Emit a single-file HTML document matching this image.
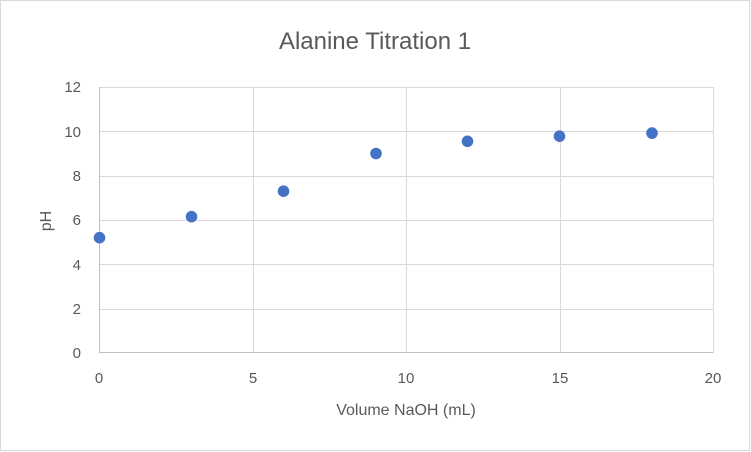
<!DOCTYPE html>
<html><head><style>body{margin:0;background:#fff}svg{display:block}</style></head>
<body>
<svg width="751" height="452" xmlns="http://www.w3.org/2000/svg" font-family="'Liberation Sans',sans-serif">
<rect x="0.5" y="0.5" width="749" height="450" fill="#fff" stroke="#d9d9d9"/>
<text x="375" y="49" text-anchor="middle" font-size="24" fill="#595959">Alanine Titration 1</text>
<g stroke="#d9d9d9" stroke-width="1">
<line x1="99" y1="87.5" x2="713" y2="87.5"/>
<line x1="99" y1="131.5" x2="713" y2="131.5"/>
<line x1="99" y1="176.5" x2="713" y2="176.5"/>
<line x1="99" y1="220.5" x2="713" y2="220.5"/>
<line x1="99" y1="264.5" x2="713" y2="264.5"/>
<line x1="99" y1="309.5" x2="713" y2="309.5"/>
<line x1="253.5" y1="87" x2="253.5" y2="353"/>
<line x1="406.5" y1="87" x2="406.5" y2="353"/>
<line x1="560.5" y1="87" x2="560.5" y2="353"/>
<line x1="713.5" y1="87" x2="713.5" y2="353"/>
</g>
<g stroke="#bfbfbf" stroke-width="1">
<line x1="99" y1="352.5" x2="713" y2="352.5"/>
<line x1="99.5" y1="87" x2="99.5" y2="353"/>
</g>
<g font-size="15" fill="#595959" text-anchor="end">
<text x="81" y="92">12</text><text x="81" y="137">10</text><text x="81" y="181">8</text>
<text x="81" y="225">6</text><text x="81" y="270">4</text><text x="81" y="314">2</text><text x="81" y="358">0</text>
</g>
<g font-size="15" fill="#595959" text-anchor="middle">
<text x="99" y="383">0</text><text x="253" y="383">5</text><text x="406" y="383">10</text>
<text x="560" y="383">15</text><text x="713" y="383">20</text>
</g>
<text x="406" y="415" text-anchor="middle" font-size="16" fill="#595959">Volume NaOH (mL)</text>
<text transform="translate(51,221) rotate(-90)" text-anchor="middle" font-size="16" fill="#595959">pH</text>
<g fill="#4472c4">
<circle cx="99.5" cy="237.7" r="5.8"/>
<circle cx="191.5" cy="216.7" r="5.8"/>
<circle cx="283.5" cy="191.2" r="5.8"/>
<circle cx="376" cy="153.5" r="5.8"/>
<circle cx="467.5" cy="141.3" r="5.8"/>
<circle cx="559.5" cy="136.2" r="5.8"/>
<circle cx="652" cy="133.1" r="5.8"/>
</g>
</svg>
</body></html>
